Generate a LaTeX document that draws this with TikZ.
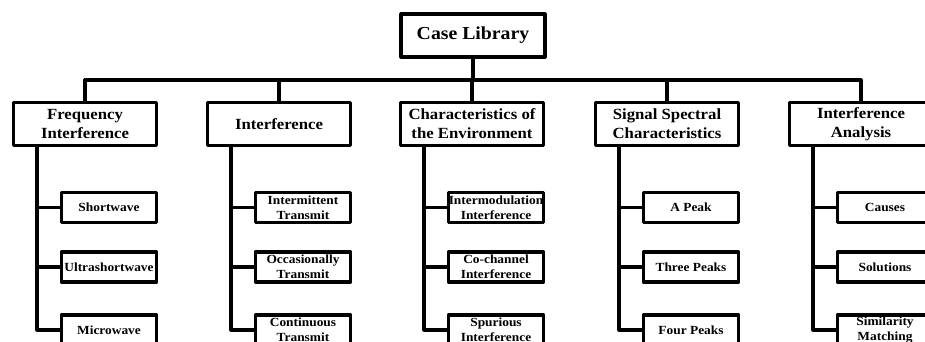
\documentclass[tikz,border=0pt]{standalone}
\usepackage{fontspec}
\setmainfont{Liberation Serif}[FakeStretch=1.08]
\begin{document}
\begin{tikzpicture}[x=1pt,y=-1pt,
  line width=3.2pt, line join=round,
  box/.style={draw, inner sep=0pt, align=center, font=\bfseries},
  rootbox/.style={box, minimum width=144pt, minimum height=43pt, font=\bfseries\fontsize{18.3}{22}\selectfont},
  topbox/.style={box, minimum width=143pt, minimum height=43pt, font=\bfseries\fontsize{15.5}{19}\selectfont},
  leafbox/.style={box, minimum width=95pt, minimum height=30pt, font=\bfseries\fontsize{12.4}{15}\selectfont},
  link/.style={draw, line width=3.2pt}
]
\useasboundingbox (0,0) rectangle (925,342);
\clip (0,0) rectangle (925,342);
\node[rootbox] (root) at (473,35.5) {Case Library};
\coordinate (bus) at (473,80);

\node[topbox] (T1) at (85,124) {Frequency\\Interference};
\node[topbox] (T2) at (279,124) {Interference};
\node[topbox] (T3) at (472,124) {Characteristics of\\the Environment};
\node[topbox] (T4) at (667,124) {Signal Spectral\\Characteristics};
\node[topbox] (T5) at (861,124) {Interference\\Analysis};

\draw[link] (root.south) -- (root.south |- bus);
\draw[link] (T1.north) |- (T5.north |- bus) -- (T5.north);
\foreach \t in {T2,T3,T4} \draw[link] (\t.north) -- (\t.north |- bus);

% leaves
\node[leafbox] (A1) at (109,207.5) {Shortwave};
\node[leafbox] (A2) at (109,267) {Ultrashortwave};
\node[leafbox] (A3) at (109,330) {Microwave};

\node[leafbox] (B1) at (303,207.5) {Intermittent\\Transmit};
\node[leafbox] (B2) at (303,267) {Occasionally\\Transmit};
\node[leafbox] (B3) at (303,330) {Continuous\\Transmit};

\node[leafbox] (C1) at (496,207.5) {Intermodulation\\Interference};
\node[leafbox] (C2) at (496,267) {Co-channel\\Interference};
\node[leafbox] (C3) at (496,330) {Spurious\\Interference};

\node[leafbox] (D1) at (691,207.5) {A Peak};
\node[leafbox] (D2) at (691,267) {Three Peaks};
\node[leafbox] (D3) at (691,330) {Four Peaks};

\node[leafbox] (E1) at (885,207.5) {Causes};
\node[leafbox] (E2) at (885,267) {Solutions};
\node[leafbox] (E3) at (885,330) {Similarity\\Matching};

\foreach \p/\c in {T1/A,T2/B,T3/C,T4/D,T5/E}{
  \draw[link] ([xshift=-48pt]\p.south) |- (\c3.west);
  \draw[link] ([xshift=-48pt]\p.south |- \c1.west) -- (\c1.west);
  \draw[link] ([xshift=-48pt]\p.south |- \c2.west) -- (\c2.west);
}
\end{tikzpicture}
\end{document}
